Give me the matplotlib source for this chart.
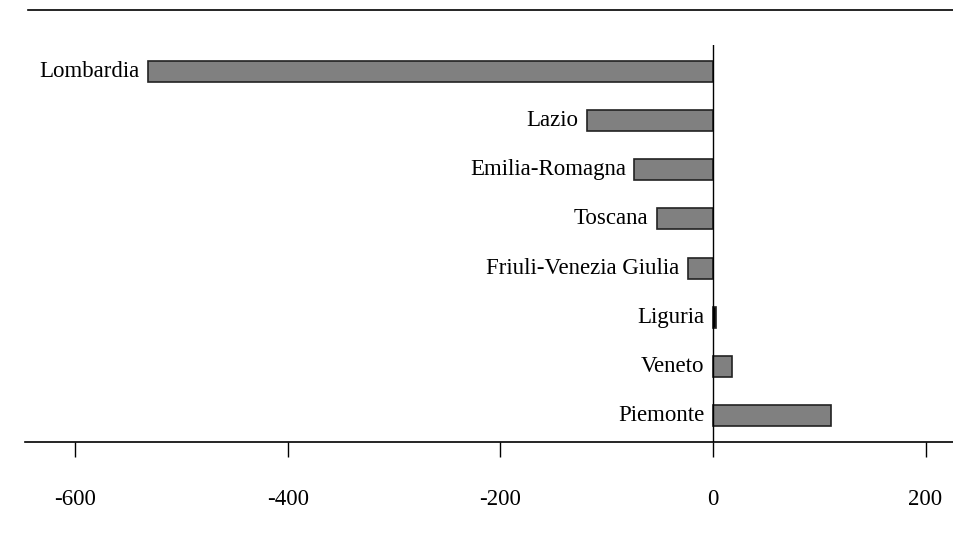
import matplotlib
matplotlib.use("Agg")
import matplotlib.pyplot as plt

regions = ["Piemonte", "Veneto", "Liguria", "Friuli-Venezia Giulia",
           "Toscana", "Emilia-Romagna", "Lazio", "Lombardia"]
values = [111, 18, 3, -24, -53, -74, -119, -532]
bar_colors = ["#808080", "#808080", "#000000", "#808080",
              "#808080", "#808080", "#808080", "#808080"]
xticks = [-600, -400, -200, 0, 200]

plt.rcParams["font.family"] = ["Liberation Serif", "DejaVu Serif"]

fig = plt.figure(figsize=(9.54, 5.34), dpi=100)
ax = fig.add_axes([25 / 954, 92 / 534, 929 / 954, 397 / 534])

y = list(range(len(regions)))
ax.barh(y, values, height=0.43, color=bar_colors, edgecolor="#222222", linewidth=1.2)

for yi, name, v in zip(y, regions, values):
    x0 = min(v, 0)
    ax.annotate(name, (x0, yi), xytext=(-6, 0), textcoords="offset points",
                ha="right", va="center", fontsize=16.5)

ax.axvline(0, color="black", linewidth=1)
ax.set_xlim(-647.5, 226.8)
ax.set_ylim(-0.54, 7.54)
ax.set_yticks([])
ax.set_xticks(xticks)
ax.set_xticklabels([str(t) for t in xticks], fontsize=16.5)
ax.tick_params(axis="x", direction="out", length=11, width=1, pad=23)
for s in ["top", "right", "left"]:
    ax.spines[s].set_visible(False)
ax.spines["bottom"].set_linewidth(1.2)

# top rule across the figure
fig.add_artist(plt.Line2D([28 / 954, 1], [1 - 10 / 534, 1 - 10 / 534],
                          color="black", linewidth=1.2))

fig.savefig("out.png", dpi=100)
